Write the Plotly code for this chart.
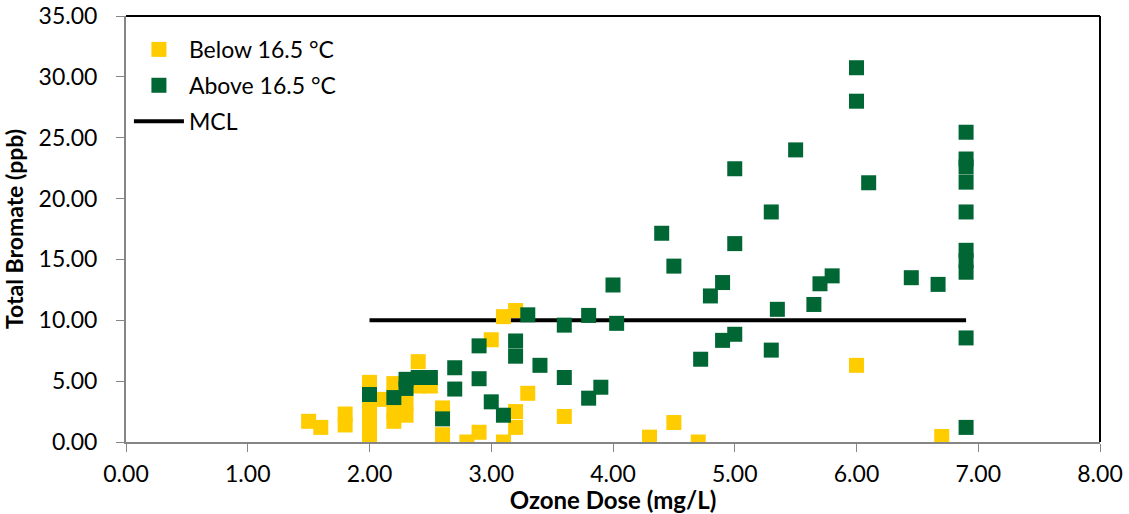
import plotly.graph_objects as go

# Bromate results by ozone dose, split by water temperature
below_dose = [1.5, 1.6, 1.8, 1.8, 2.0, 2.0, 2.0, 2.0, 2.0, 2.0, 2.1, 2.2, 2.2, 2.2,
              2.3, 2.3, 2.4, 2.4, 2.5, 2.6, 2.6, 2.6, 2.8, 2.9, 3.0, 3.1, 3.1, 3.2,
              3.2, 3.2, 3.3, 3.6, 4.3, 4.3, 4.5, 4.7, 6.0, 6.7]
below_bromate = [1.7, 1.2, 2.3, 1.4, 4.9, 2.9, 2.0, 1.1, 0.3, 0.0, 3.5, 4.8, 2.5, 1.7,
                 3.2, 2.2, 6.6, 4.6, 4.6, 2.8, 0.6, 0.0, 0.0, 0.8, 8.4, 10.3, 0.0, 10.8,
                 2.5, 1.2, 4.0, 2.1, 0.4, 0.0, 1.6, 0.0, 6.3, 0.45]

above_dose = [2.0, 2.2, 2.3, 2.3, 2.4, 2.5, 2.6, 2.7, 2.7, 2.9, 2.9, 3.0, 3.1, 3.2,
              3.2, 3.3, 3.4, 3.6, 3.6, 3.8, 3.8, 3.9, 4.0, 4.03, 4.4, 4.5, 4.72, 4.8,
              4.9, 4.9, 5.0, 5.0, 5.0, 5.3, 5.3, 5.35, 5.5, 5.65, 5.7, 5.8, 6.0, 6.0,
              6.1, 6.45, 6.67, 6.9, 6.9, 6.9, 6.9, 6.9, 6.9, 6.9, 6.9, 6.9, 6.9]
above_bromate = [3.9, 3.65, 5.15, 4.4, 5.3, 5.3, 1.9, 6.1, 4.35, 7.9, 5.2, 3.3, 2.2, 8.3,
                 7.05, 10.45, 6.3, 9.6, 5.3, 10.4, 3.6, 4.5, 12.9, 9.75, 17.15, 14.45, 6.8, 12.0,
                 13.1, 8.35, 22.45, 16.3, 8.85, 18.9, 7.55, 10.9, 24.0, 11.3, 13.0, 13.65, 30.75, 28.0,
                 21.3, 13.5, 12.95, 25.45, 23.25, 22.6, 21.35, 18.9, 15.75, 14.9, 13.95, 8.55, 1.2]

mcl_dose = [2.0, 6.9]
mcl_bromate = [10.0, 10.0]

x_ticks = [0, 1, 2, 3, 4, 5, 6, 7, 8]
y_ticks = [0, 5, 10, 15, 20, 25, 30, 35]

FONT = "Lato"
AXIS_GREY = "#868686"

fig = go.Figure()

fig.add_trace(go.Scatter(
    x=mcl_dose, y=mcl_bromate, mode="lines", name="MCL",
    line=dict(color="black", width=4),
    legendrank=3, legendgroup="c",
))
fig.add_trace(go.Scatter(
    x=below_dose, y=below_bromate, mode="markers", name="Below 16.5 °C",
    marker=dict(symbol="square", size=15, color="#FFCC00"),
    legendrank=1, legendgroup="a",
))
fig.add_trace(go.Scatter(
    x=above_dose, y=above_bromate, mode="markers", name="Above 16.5 °C",
    marker=dict(symbol="square", size=15, color="#006633"),
    legendrank=2, legendgroup="b",
))

fig.update_layout(
    width=1129, height=514,
    margin=dict(l=126, r=29, t=16, b=72),
    paper_bgcolor="white", plot_bgcolor="white",
    font=dict(family=FONT, size=24, color="black"),
    showlegend=True,
    legend=dict(
        x=0.003, y=0.972, xanchor="left", yanchor="top",
        bgcolor="rgba(0,0,0,0)", font=dict(size=23),
        tracegroupgap=3, itemwidth=50,
    ),
    xaxis=dict(
        range=[0, 8], tickvals=x_ticks, tickformat=".2f",
        showgrid=False, zeroline=False, automargin=False,
        showline=True, linecolor=AXIS_GREY, linewidth=2,
        ticks="outside", ticklen=8, tickcolor=AXIS_GREY, tickwidth=1,
        tickfont=dict(size=23), ticklabelstandoff=2,
        title=dict(text="<b>Ozone Dose (mg/L)</b>", standoff=0, font=dict(size=24)),
    ),
    yaxis=dict(
        range=[0, 35], tickvals=y_ticks, tickformat=".2f",
        showgrid=False, zeroline=False, automargin=False,
        showline=True, linecolor=AXIS_GREY, linewidth=2,
        ticks="outside", ticklen=8, tickcolor=AXIS_GREY, tickwidth=1,
        tickfont=dict(size=23), ticklabelstandoff=14,
        title=dict(text="<b>Total Bromate (ppb)</b>", standoff=12, font=dict(size=23)),
    ),
    shapes=[
        dict(type="line", xref="paper", yref="paper", x0=0, x1=1, y0=1, y1=1,
             line=dict(color="black", width=2)),
        dict(type="line", xref="paper", yref="paper", x0=1, x1=1, y0=0, y1=1,
             line=dict(color="black", width=2)),
    ],
)

fig.write_html("out.html")
